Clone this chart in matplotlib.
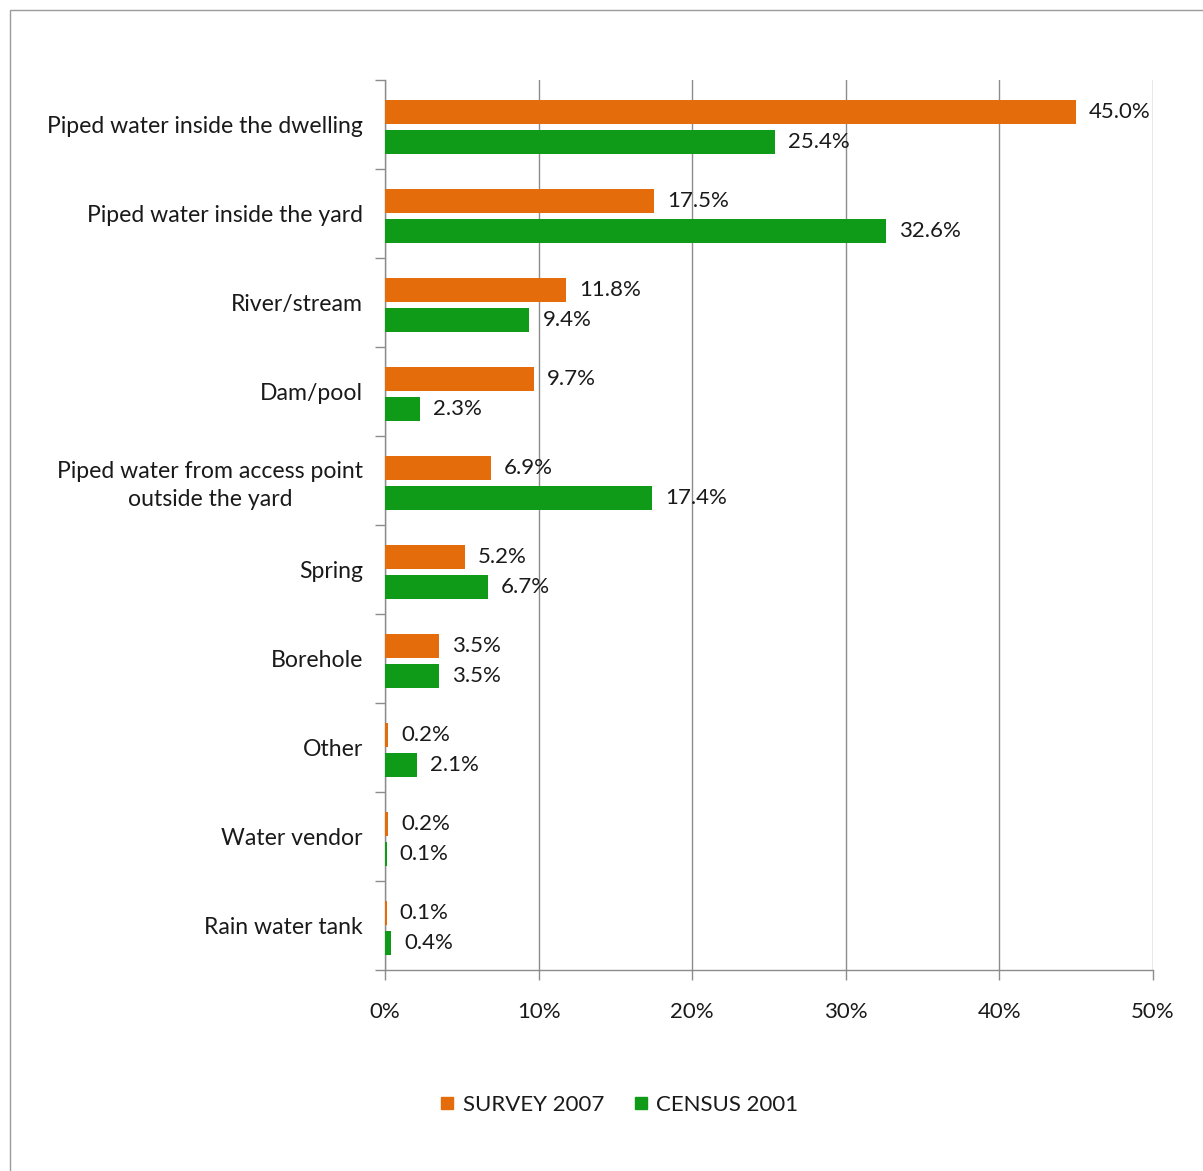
import matplotlib
matplotlib.use("Agg")
import matplotlib.pyplot as plt
from matplotlib.patches import Rectangle
from matplotlib.lines import Line2D
import numpy as np

plt.rcParams['font.family'] = ['Lato', 'DejaVu Sans']

categories = [
    "Piped water inside the dwelling",
    "Piped water inside the yard",
    "River/stream",
    "Dam/pool",
    "Piped water from access point\noutside the yard",
    "Spring",
    "Borehole",
    "Other",
    "Water vendor",
    "Rain water tank",
]
survey_2007 = [45.0, 17.5, 11.8, 9.7, 6.9, 5.2, 3.5, 0.2, 0.2, 0.1]
census_2001 = [25.4, 32.6, 9.4, 2.3, 17.4, 6.7, 3.5, 2.1, 0.1, 0.4]
series_names = ["SURVEY 2007", "CENSUS 2001"]
x_ticks = [0, 10, 20, 30, 40, 50]

ORANGE = "#E46C0A"
GREEN = "#0F9A17"
GRID = "#8C8C8C"
TEXT = "#1A1A1A"
FS = 16

W, H = 1203, 1171
fig = plt.figure(figsize=(W / 100, H / 100), dpi=100)
fig.patch.set_facecolor("white")

# outer chart frame (only top/left edges fall inside the canvas)
fig.add_artist(Rectangle((10 / W, -0.1), 1.2, 1 - 10 / H + 0.1,
                         transform=fig.transFigure, fill=False,
                         edgecolor="#9A9A9A", linewidth=1.0))

ax = fig.add_axes([385 / W, 1 - 970 / H, (1153 - 385) / W, (970 - 80) / H])

y = np.arange(len(categories))
bar_h = 0.27
off_s, off_c = -0.135, 0.2
ax.barh(y + off_s, survey_2007, height=bar_h, color=ORANGE, zorder=3)
ax.barh(y + off_c, census_2001, height=bar_h, color=GREEN, zorder=3)

for yi, v in zip(y + off_s, survey_2007):
    ax.annotate(f"{v:.1f}%", (v, yi), xytext=(13, 0), textcoords="offset pixels",
                va="center", ha="left", fontsize=FS, color=TEXT, zorder=4)
for yi, v in zip(y + off_c, census_2001):
    ax.annotate(f"{v:.1f}%", (v, yi), xytext=(13, 0), textcoords="offset pixels",
                va="center", ha="left", fontsize=FS, color=TEXT, zorder=4)

ax.set_xlim(0, 50)
ax.set_ylim(len(categories) - 0.5, -0.5)
ax.set_xticks(x_ticks)
ax.set_xticklabels([f"{t}%" for t in x_ticks])
ax.set_yticks(y)
ax.set_yticklabels(categories, multialignment="center", linespacing=1.4)
ax.set_yticks(np.arange(len(categories) + 1) - 0.5, minor=True)

ax.tick_params(axis="y", which="major", length=0, pad=16, labelsize=16.6, labelcolor=TEXT)
ax.tick_params(axis="y", which="minor", length=7, width=1, color=GRID, direction="out")
ax.tick_params(axis="x", which="major", length=7, width=1, color=GRID, pad=16,
               labelsize=FS, labelcolor=TEXT)

ax.grid(axis="x", color=GRID, linewidth=1.0, zorder=0)
ax.set_axisbelow(True)
for s in ["top", "right"]:
    ax.spines[s].set_visible(False)
for s in ["left", "bottom"]:
    ax.spines[s].set_color(GRID)
    ax.spines[s].set_linewidth(1.0)

handles = [Line2D([], [], marker="s", linestyle="none", markersize=9,
                  markerfacecolor=c, markeredgecolor=c) for c in (ORANGE, GREEN)]
fig.legend(handles, series_names, loc="center", bbox_to_anchor=(619 / W, 1 - 1105 / H),
           ncol=2, frameon=False, fontsize=FS, handlelength=0.7, handletextpad=0.35,
           columnspacing=1.3, labelcolor=TEXT)

fig.savefig("out.png", dpi=100, facecolor="white")
